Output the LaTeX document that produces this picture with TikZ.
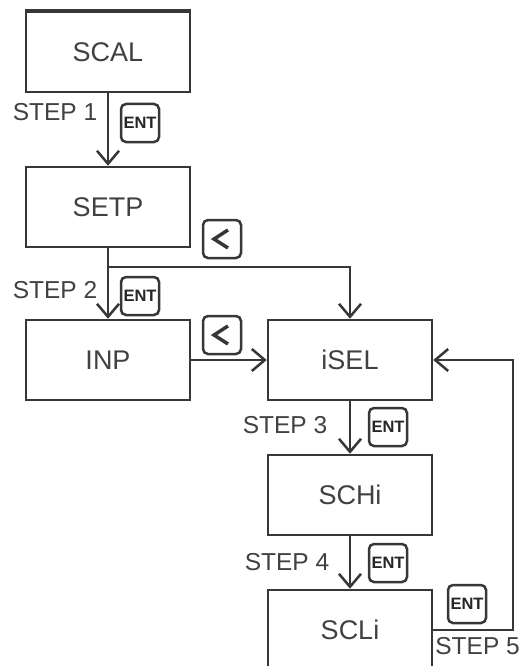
\documentclass[tikz,border=0pt]{standalone}
\usepackage{fontspec}
\setmainfont{Liberation Sans}
\usetikzlibrary{arrows.meta}
\definecolor{linec}{RGB}{55,55,55}
\definecolor{txtc}{RGB}{65,65,65}
\begin{document}
\begin{tikzpicture}[x=1pt,y=-1pt,
  box/.style={draw=linec, line width=2.5pt, minimum width=164pt, minimum height=80pt, inner sep=0pt, font=\fontsize{27}{27}\selectfont, text=txtc},
  lbl/.style={font=\fontsize{24.5}{24.5}\selectfont, text=txtc, inner sep=0pt},
  key/.style={draw=linec, line width=2.5pt, rounded corners=5pt, minimum width=38pt, minimum height=38pt, inner sep=0pt, font=\bfseries\fontsize{16.5}{16.5}\selectfont, text=black!85},
  arr/.style={draw=linec, line width=2.5pt, -{Straight Barb[length=13pt,width=22pt]}},
  chev/.style={draw=linec, line width=3.5pt, line join=miter}
]
\useasboundingbox (0,0) rectangle (521,666);
\clip (0,0) rectangle (521,666);
\fill[white] (0,0) rectangle (521,666);

% boxes
\node[box] (scal) at (108,52) {SCAL};
\node[box] (setp) at (108,207) {SETP};
\node[box] (inp) at (108,360) {INP};
\node[box] (isel) at (350,360) {iSEL};
\node[box] (schi) at (350,495) {SCHi};
\node[box] (scli) at (350,630) {SCLi};
\draw[linec, line width=4pt] (scal.north west) -- (scal.north east);

% coordinates
\coordinate (br) at (108,267);
\coordinate (loop) at (513,630);

% connectors
\draw[arr] (scal.south) -- (setp.north);
\draw[arr] (setp.south) -- (inp.north);
\draw[arr] (br) -| (isel.north);
\draw[arr] (inp.east) -- (isel.west);
\draw[arr] (isel.south) -- (schi.north);
\draw[arr] (schi.south) -- (scli.north);
\draw[arr] (scli.east) -- (loop) |- (isel.east);

% labels
\node[lbl] (s1) at (55,112) {STEP 1};
\node[lbl] (s2) at (55,290) {STEP 2};
\node[lbl] (s3) at (285,425) {STEP 3};
\node[lbl] (s4) at (287,562) {STEP 4};
\node[lbl, anchor=east] (s5) at (520,646) {STEP 5};

% keys
\node[key] (e1) at (140,123) {ENT};
\node[key] (e2) at (140,296) {ENT};
\node[key] (e3) at (388,427) {ENT};
\node[key] (e4) at (388,563) {ENT};
\node[key] (e5) at (467,604) {ENT};
\node[key] (l1) at (222,239) {};
\node[key] (l2) at (222,335) {};
\draw[chev] ([xshift=6pt,yshift=9pt]l1.center) -- ([xshift=-8pt]l1.center) -- ([xshift=6pt,yshift=-9pt]l1.center);
\draw[chev] ([xshift=6pt,yshift=9pt]l2.center) -- ([xshift=-8pt]l2.center) -- ([xshift=6pt,yshift=-9pt]l2.center);
\end{tikzpicture}
\end{document}
